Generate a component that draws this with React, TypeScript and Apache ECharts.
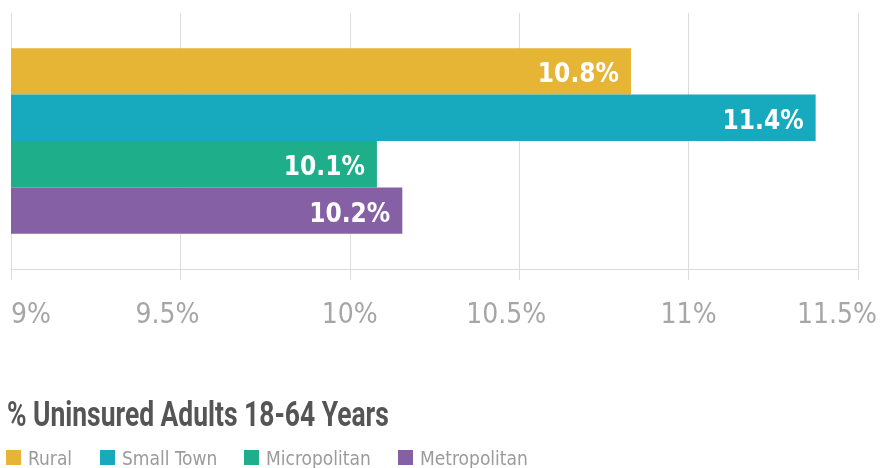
import React, { useEffect, useRef } from 'react';
import * as echarts from 'echarts';

const categories = ['Rural', 'Small Town', 'Micropolitan', 'Metropolitan'];
const values = [10.83, 11.375, 10.08, 10.155];
const valueLabels = ['10.8%', '11.4%', '10.1%', '10.2%'];
const colors = ['#E6B535', '#17AABF', '#1EAE8A', '#8660A5'];
const axisMin = 9;
const axisMax = 11.5;
const axisStep = 0.5;
const chartTitle = '% Uninsured Adults 18-64 Years';

const NARROW = "'DejaVu Sans Condensed', 'Liberation Sans Narrow', Roboto, sans-serif";

export default function App() {
  const ref = useRef<HTMLDivElement>(null);
  useEffect(() => {
    if (!ref.current) return;
    const chart = echarts.init(ref.current, undefined, { renderer: 'svg' });
    const legendLefts = [6, 100, 244, 398];
    const labelStyle = { fontFamily: NARROW, fontSize: 28, color: '#a6a6a6' };
    const option: any = {
      animation: false,
      graphic: [
        {
          type: 'text',
          x: 7,
          y: 397,
          scaleX: 0.755,
          style: {
            text: chartTitle,
            fontFamily: 'Roboto',
            fontWeight: 'bold',
            fontSize: 35,
            fill: '#555555',
            textVerticalAlign: 'top',
          },
        },
      ],
      legend: categories.map((c, i) => ({
        data: [c],
        left: legendLefts[i],
        top: 448,
        padding: 0,
        icon: 'rect',
        itemWidth: 15,
        itemHeight: 15,
        selectedMode: false,
        textStyle: { fontFamily: NARROW, fontSize: 19, lineHeight: 17, color: '#9b9b9b', padding: [0, 0, 0, 2] },
      })),
      grid: { left: 11, right: 22, top: 13, bottom: 199, containLabel: false, outerBoundsMode: 'none' },
      xAxis: {
        type: 'value',
        min: axisMin,
        max: axisMax,
        interval: axisStep,
        axisLine: { show: true, lineStyle: { color: '#dcdcdc', width: 1 } },
        axisTick: { show: true, length: 11, lineStyle: { color: '#dcdcdc', width: 1 } },
        splitLine: { show: true, lineStyle: { color: '#dcdcdc', width: 1 } },
        axisLabel: {
          margin: 30,
          alignMinLabel: 'left',
          ...labelStyle,
          formatter: (v: number) =>
            v === axisMax ? `{e|${v}%}` : Math.round(v) === v ? `{w|${v}%}` : `{h|${v}%}`,
          rich: {
            w: { ...labelStyle },
            h: { ...labelStyle, padding: [0, 26, 0, 0] },
            e: { ...labelStyle, padding: [0, 42, 0, 0] },
          },
        },
      },
      yAxis: {
        type: 'category',
        data: [''],
        inverse: true,
        axisLine: { show: false },
        axisTick: { show: false },
        axisLabel: { show: false },
        splitLine: { show: false },
      },
      series: categories.map((c, i) => ({
        name: c,
        type: 'bar',
        data: [values[i]],
        barWidth: 46.4,
        barGap: '0%',
        itemStyle: { color: colors[i] },
        label: {
          show: true,
          position: 'insideRight',
          distance: 12,
          offset: [0, 2],
          formatter: () => valueLabels[i],
          fontFamily: NARROW,
          fontWeight: 'bold',
          fontSize: 26,
          color: '#ffffff',
        },
      })),
    };
    chart.setOption(option);
    return () => chart.dispose();
  }, []);
  return <div ref={ref} style={{ position: 'fixed', left: 0, top: 0, width: 880, height: 468 }} />;
}
